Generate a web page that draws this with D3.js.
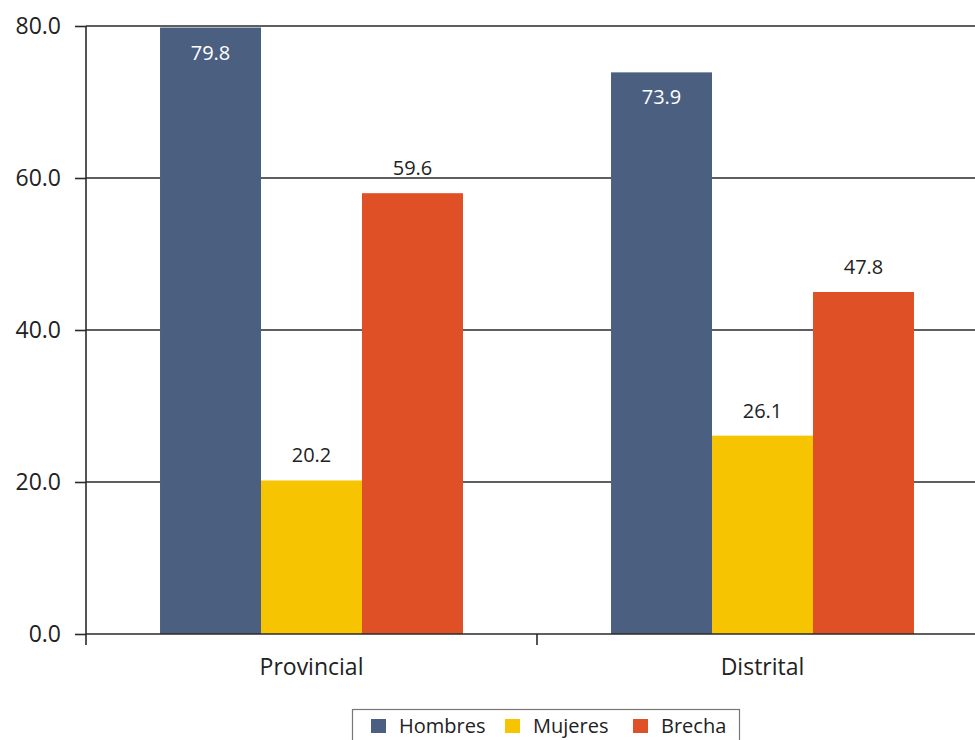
<!DOCTYPE html>
<html><head><meta charset="utf-8">
<script src="https://cdn.jsdelivr.net/npm/d3@7"></script>
<style>body{margin:0;background:#fff}svg{display:block}text{font-family:"Open Sans",sans-serif}</style>
</head><body>
<script>
const categories = ["Provincial", "Distrital"];
const seriesNames = ["Hombres", "Mujeres", "Brecha"];
const hombres = [79.8, 73.9];
const mujeres = [20.2, 26.1];
const brecha = [58.0, 45.0];
const hombresLabels = ["79.8", "73.9"];
const mujeresLabels = ["20.2", "26.1"];
const brechaLabels = ["59.6", "47.8"];
const yTicks = [0, 20, 40, 60, 80];
const colors = ["#4b5f80", "#f6c400", "#e05026"];

const W = 975, H = 740;
const svg = d3.select("body").append("svg").attr("width", W).attr("height", H);

const x0 = d3.scaleBand().domain(categories).range([86, 988]).paddingInner(0).paddingOuter(0);
const x1 = d3.scaleBand().domain(seriesNames).range([0, x0.bandwidth()]).paddingInner(0).paddingOuter(0.733);
const y = d3.scaleLinear().domain([0, 80]).range([634, 26]);

// gridlines
svg.append("g").selectAll("line").data(yTicks.filter(d => d > 0)).join("line")
  .attr("x1", 86).attr("x2", W).attr("y1", d => y(d)).attr("y2", d => y(d))
  .attr("stroke", "#2a2a2a").attr("stroke-width", 1.6);

const values = [hombres, mujeres, brecha];
const labels = [hombresLabels, mujeresLabels, brechaLabels];
const rows = [];
seriesNames.forEach((s, si) => categories.forEach((c, ci) => rows.push({s, si, c, v: values[si][ci], lab: labels[si][ci]})));

svg.append("g").selectAll("rect").data(rows).join("rect")
  .attr("x", d => x0(d.c) + x1(d.s))
  .attr("width", x1.bandwidth())
  .attr("y", d => y(d.v))
  .attr("height", d => y(0) - y(d.v))
  .attr("fill", d => colors[d.si]);

svg.append("g").selectAll("text").data(rows).join("text")
  .attr("x", d => x0(d.c) + x1(d.s) + x1.bandwidth() / 2)
  .attr("y", d => d.si === 0 ? y(d.v) + 32 : y(d.v) - 18)
  .attr("text-anchor", "middle")
  .attr("font-size", 20)
  .attr("fill", d => d.si === 0 ? "#fff" : "#222")
  .text(d => d.lab);

// y axis
const yAxis = d3.axisLeft(y).tickValues(yTicks).tickFormat(d3.format(".1f")).tickSize(11).tickPadding(14);
const gy = svg.append("g").attr("transform", "translate(86,0)").call(yAxis);
gy.select(".domain").remove();
gy.selectAll(".tick line").attr("stroke", "#2a2a2a").attr("stroke-width", 1.6);
gy.selectAll(".tick text").attr("font-size", 23).attr("fill", "#222").attr("font-family", '"Open Sans",sans-serif');
svg.append("line").attr("x1", 86).attr("x2", 86).attr("y1", y(80)).attr("y2", 645)
  .attr("stroke", "#2a2a2a").attr("stroke-width", 1.6);

// x axis baseline and ticks
svg.append("line").attr("x1", 86).attr("x2", W).attr("y1", y(0)).attr("y2", y(0))
  .attr("stroke", "#2a2a2a").attr("stroke-width", 1.6);
const xAxis = d3.axisBottom(x0).tickSize(0).tickPadding(25);
const gx = svg.append("g").attr("transform", `translate(0,${y(0)})`).call(xAxis);
gx.select(".domain").remove();
gx.selectAll(".tick text").attr("font-size", 23).attr("fill", "#222").attr("font-family", '"Open Sans",sans-serif');
svg.append("g").selectAll("line").data(categories.slice(1)).join("line")
  .attr("x1", d => x0(d)).attr("x2", d => x0(d)).attr("y1", y(0)).attr("y2", 645)
  .attr("stroke", "#2a2a2a").attr("stroke-width", 1.6);

// legend
const lg = svg.append("g");
lg.append("rect").attr("x", 352.5).attr("y", 709.5).attr("width", 387).attr("height", 40)
  .attr("fill", "#fff").attr("stroke", "#777").attr("stroke-width", 1.2);
const legX = [371, 505, 633];
seriesNames.forEach((s, i) => {
  lg.append("rect").attr("x", legX[i]).attr("y", 719).attr("width", 15).attr("height", 14).attr("fill", colors[i]);
  lg.append("text").attr("x", legX[i] + 28).attr("y", 733).attr("font-size", 20).attr("fill", "#222").text(s);
});
</script>
</body></html>
